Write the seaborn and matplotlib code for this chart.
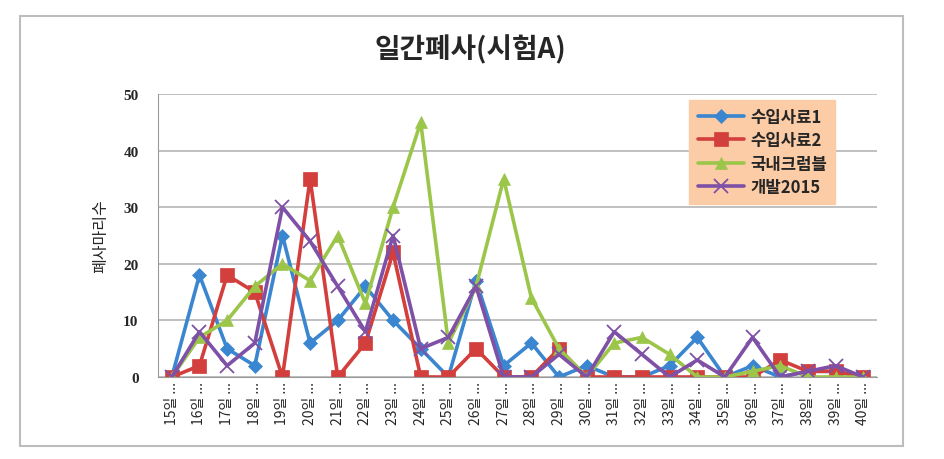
import matplotlib
matplotlib.use("Agg")
import matplotlib.pyplot as plt
import seaborn as sns
import pandas as pd
from matplotlib.patches import Rectangle

days = list(range(15, 41))
day_labels = [f"{d}일 ..." for d in days]

feed1 = [0, 18, 5, 2, 25, 6, 10, 16, 10, 5, 0, 17, 2, 6, 0, 2, 0, 0, 2, 7, 0, 2, 0, 1, 1, 0]
feed2 = [0, 2, 18, 15, 0, 35, 0, 6, 22, 0, 0, 5, 0, 0, 5, 0, 0, 0, 0, 0, 0, 0, 3, 1, 1, 0]
crumble = [0, 7, 10, 16, 20, 17, 25, 13, 30, 45, 6, 16, 35, 14, 5, 0, 6, 7, 4, 0, 0, 1, 2, 0, 0, 0]
dev2015 = [0, 8, 2, 6, 30, 24, 16, 8, 25, 5, 7, 16, 0, 0, 4, 0, 8, 4, 0, 3, 0, 7, 0, 1, 2, 0]

series_names = ["수입사료1", "수입사료2", "국내크럼블", "개발2015"]
series_values = [feed1, feed2, crumble, dev2015]

rows = []
for name, vals in zip(series_names, series_values):
    for d, v in zip(days, vals):
        rows.append({"day": d, "value": v, "series": name})
df = pd.DataFrame(rows)

sns.set_style("white")
plt.rcParams["font.family"] = ["Noto Sans CJK KR", "DejaVu Sans"]

colors = {"수입사료1": "#3a86d0", "수입사료2": "#d23f3c",
          "국내크럼블": "#9cc64a", "개발2015": "#7e50a6"}
markers = {"수입사료1": "D", "수입사료2": "s", "국내크럼블": "^", "개발2015": "x"}
msizes = {"수입사료1": 7, "수입사료2": 9.5, "국내크럼블": 9, "개발2015": 10}

fig = plt.figure(figsize=(9.44, 4.6), dpi=100)
fig.patches.append(Rectangle((20 / 944, 1 - 447 / 460), 883 / 944, 430 / 460,
                             transform=fig.transFigure, fill=False,
                             edgecolor="#bdbdbd", linewidth=1.5))
ax = fig.add_axes([158 / 944, 1 - 378 / 460, 719 / 944, 283 / 460])

for name in series_names:
    sub = df[df["series"] == name]
    is_x = name == "개발2015"
    sns.lineplot(data=sub, x="day", y="value", ax=ax, color=colors[name],
                 linewidth=2.6, marker=markers[name],
                 markersize=msizes[name], markeredgewidth=1.3 if is_x else 0.5,
                 markeredgecolor=colors[name] if is_x else None,
                 label=name)

ax.set_xlim(14.5, 40.5)
ax.set_ylim(0, 50)
ax.set_yticks(range(0, 51, 10))
ax.set_xticks(days)
ax.set_xticklabels(day_labels, rotation=90, fontsize=10)
ax.tick_params(axis="y", labelsize=11, length=0, pad=14)
ax.tick_params(axis="x", length=0, pad=3)
for lbl in ax.get_yticklabels():
    lbl.set_family(["Liberation Serif", "DejaVu Serif"])
    lbl.set_fontweight("bold")
ax.yaxis.grid(True, color="#b5b5b5", linewidth=1.2)
ax.set_axisbelow(True)
for side in ["top", "right"]:
    ax.spines[side].set_visible(False)
ax.spines["left"].set_color("#9a9a9a")
ax.spines["bottom"].set_color("#9a9a9a")
ax.set_xlabel("")
ax.set_ylabel("폐사마리수", fontsize=11.5, labelpad=10, fontweight="medium")

fig.text(470 / 944, 1 - 50 / 460, "일간폐사(시험A)", ha="center", va="center",
         fontsize=20, fontweight="bold")

leg = ax.legend(loc="upper left", bbox_to_anchor=((681 - 158) / 719, 1.01),
                frameon=True, fontsize=12, handlelength=2.8, borderpad=0.5,
                labelspacing=0.32, handletextpad=0.35)
leg.get_frame().set_facecolor("#fbcca5")
leg.get_frame().set_edgecolor("#fbcca5")
leg.get_frame().set_boxstyle("square", pad=0)
leg.get_frame().set_alpha(1)
for t in leg.get_texts():
    t.set_fontweight("bold")

fig.savefig("out.png", dpi=100)
